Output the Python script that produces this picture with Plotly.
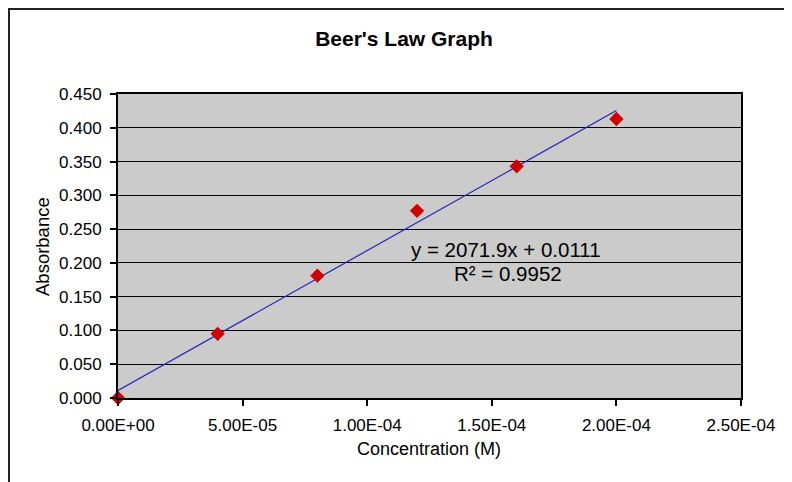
import plotly.graph_objects as go

# Data
concentration = [0.0, 4.0e-5, 8.0e-5, 1.2e-4, 1.6e-4, 2.0e-4]
absorbance = [0.000, 0.095, 0.181, 0.277, 0.343, 0.413]

# Trendline (from annotated equation)
slope = 2071.9
intercept = 0.0111
trend_x = [0.0, 2.0e-4]
trend_y = [slope * x + intercept for x in trend_x]

x_tickvals = [0.0, 5.0e-5, 1.0e-4, 1.5e-4, 2.0e-4, 2.5e-4]
x_ticktext = ["0.00E+00", "5.00E-05", "1.00E-04", "1.50E-04", "2.00E-04", "2.50E-04"]

FONT = "Liberation Sans, Arial, sans-serif"

# page body has an 8px margin; positions below are figure-relative
PL, PR, PT, PB = 110, 733, 86, 390   # plot area in figure pixels
PW, PH = PR - PL, PB - PT

def px(x):  # screenshot x -> paper
    return (x - 8 - PL) / PW

def py(y):  # screenshot y -> paper
    return (PB - (y - 8)) / PH

fig = go.Figure()
fig.add_trace(go.Scatter(
    x=trend_x, y=trend_y, mode="lines",
    line=dict(color="#2424B4", width=1.2),
    hoverinfo="skip", showlegend=False,
))
fig.add_trace(go.Scatter(
    x=concentration, y=absorbance, mode="markers",
    marker=dict(symbol="diamond", color="#D00000", size=11, line=dict(width=0)),
    cliponaxis=False, showlegend=False,
))

fig.update_layout(
    width=792, height=482,
    margin=dict(l=PL, r=792 - PR, t=PT, b=482 - PB, autoexpand=False),
    paper_bgcolor="white",
    plot_bgcolor="#CBCBCB",
    font=dict(family=FONT, color="black", size=17),
    title=dict(text="<b>Beer's Law Graph</b>", x=(404 - 8) / 792, xanchor="center",
               xref="container", y=1 - (39 - 8) / 482, yanchor="middle",
               font=dict(family=FONT, size=21, color="black")),
    showlegend=False,
)
fig.update_xaxes(
    range=[0, 2.5e-4], tickvals=x_tickvals, ticktext=x_ticktext,
    showgrid=False, zeroline=False, automargin=False,
    showline=True, mirror=True, linecolor="black", linewidth=2,
    ticks="outside", ticklen=6, tickwidth=1.5, tickcolor="black",
    tickfont=dict(size=17), ticklabelstandoff=5,
)
fig.update_yaxes(
    range=[0, 0.45], dtick=0.05, tickformat=".3f",
    showgrid=True, gridcolor="black", gridwidth=1.2,
    zeroline=False, automargin=False,
    showline=True, mirror=True, linecolor="black", linewidth=2,
    ticks="outside", ticklen=6, tickwidth=1.5, tickcolor="black",
    tickfont=dict(size=17), ticklabelstandoff=5,
)

# axis titles
fig.add_annotation(text="Concentration (M)", xref="paper", yref="paper",
                   x=px(429), y=py(449), showarrow=False,
                   font=dict(size=18, family=FONT, color="black"),
                   xanchor="center", yanchor="middle")
fig.add_annotation(text="Absorbance", xref="paper", yref="paper",
                   x=px(42), y=py(247), showarrow=False, textangle=-90,
                   font=dict(size=18.5, family=FONT, color="black"),
                   xanchor="center", yanchor="middle")

# trendline equation
fig.add_annotation(text="y = 2071.9x + 0.0111", xref="paper", yref="paper",
                   x=px(506), y=py(249), showarrow=False,
                   font=dict(size=20.5, family=FONT, color="black"),
                   xanchor="center", yanchor="middle")
fig.add_annotation(text="R² = 0.9952", xref="paper", yref="paper",
                   x=px(508), y=py(273), showarrow=False,
                   font=dict(size=20.5, family=FONT, color="black"),
                   xanchor="center", yanchor="middle")

# Outer chart-area border
fig.add_shape(type="rect", xref="paper", yref="paper",
              x0=(1 - PL) / PW, x1=(830 - PL) / PW,
              y0=(PB - 520) / PH, y1=(PB - 1) / PH,
              line=dict(color="#222222", width=2), fillcolor="rgba(0,0,0,0)",
              layer="below")

fig.write_html("out.html")
